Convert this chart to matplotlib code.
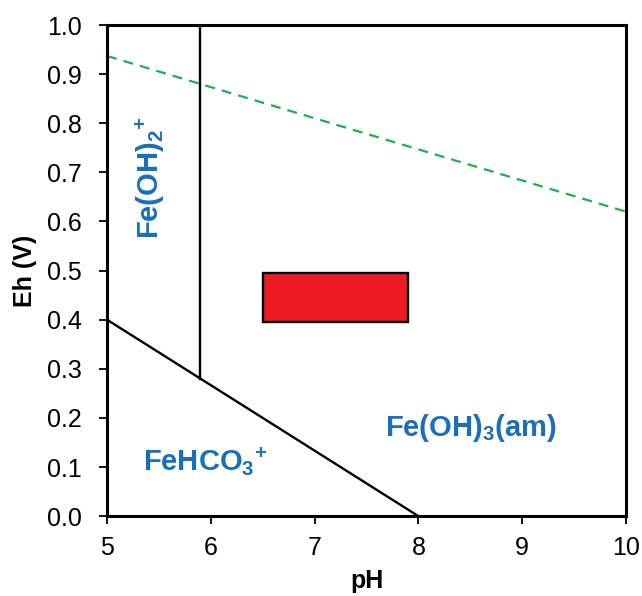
import matplotlib
matplotlib.use("Agg")
import matplotlib.pyplot as plt
from matplotlib.patches import Rectangle

plt.rcParams['font.family'] = ['Liberation Sans', 'DejaVu Sans']
plt.rcParams['mathtext.fontset'] = 'custom'
plt.rcParams['mathtext.rm'] = 'Liberation Sans'
plt.rcParams['mathtext.bf'] = 'Liberation Sans:bold'

# boundary lines (pH, Eh)
carb_ph = [5, 8]
carb_eh = [0.4, 0.0]
vert_ph = [5.9, 5.9]
vert_eh = [0.28, 1.0]
water_ph = [5, 10]
water_eh = [0.937, 0.62]

# measured sample box
box_ph = [6.5, 7.9]
box_eh = [0.395, 0.495]

# field labels
labels = [r'Fe(OH)$_\mathbf{3}$(am)', r'FeHCO$_\mathbf{3}$$^\mathbf{+}$', r'Fe(OH)$_\mathbf{2}$$^\mathbf{+}$']
label_ph = [8.5, 5.95, 5.42]
label_eh = [0.18, 0.11, 0.69]
label_rot = [0, 0, 90]

blue = '#1a6fba'

fig = plt.figure(figsize=(6.42, 5.96), dpi=100)
ax = fig.add_axes([0.1667, 0.134, 0.8083, 0.824])

ax.plot(carb_ph, carb_eh, color='black', lw=1.7)
ax.plot(vert_ph, vert_eh, color='black', lw=1.7)
ax.plot(water_ph, water_eh, color='#1db04b', lw=1.6, ls=(0, (4.5, 3.2)))

ax.add_patch(Rectangle((box_ph[0], box_eh[0]), box_ph[1] - box_ph[0], box_eh[1] - box_eh[0],
                       facecolor='#ed1c24', edgecolor='black', lw=1.7, zorder=3))

for txt, x, y, r in zip(labels, label_ph, label_eh, label_rot):
    ax.text(x, y, txt, color=blue, fontsize=21, fontweight='bold', rotation=r,
            ha='center', va='center')

ax.set_xlim(5, 10)
ax.set_ylim(0, 1.0)
ax.set_xticks([5, 6, 7, 8, 9, 10])
ax.set_yticks([i / 10 for i in range(11)])
ax.set_yticklabels([f"{i / 10:.1f}" for i in range(11)])
ax.tick_params(direction='out', length=6, width=1.3, labelsize=18)
ax.tick_params(axis='x', pad=8.5)
ax.tick_params(axis='y', pad=12)

for s in ax.spines.values():
    s.set_linewidth(2.2)

ax.set_xlabel('pH', fontsize=18, fontweight='bold')
ax.set_ylabel('Eh (V)', fontsize=18, fontweight='bold')
ax.xaxis.set_label_coords(0.5, -0.107)
ax.yaxis.set_label_coords(-0.135, 0.5)

fig.savefig('out.png', dpi=100)
